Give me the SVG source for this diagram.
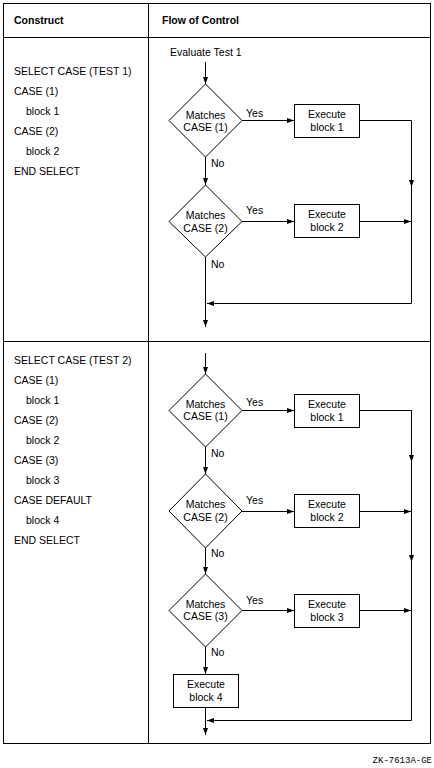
<svg xmlns="http://www.w3.org/2000/svg" width="434" height="768" viewBox="0 0 434 768">
<style>
  .t{font-family:"Liberation Sans",Arial,sans-serif;font-size:10.5px;fill:#000}
  .h{font-family:"Liberation Sans",Arial,sans-serif;font-size:10.5px;font-weight:bold;fill:#000}
  .c{text-anchor:middle}
  .s{fill:#fff;stroke:#000;stroke-width:1}
  .l{fill:none;stroke:#000;stroke-width:1}
  .a{fill:none;stroke:#000;stroke-width:1;marker-end:url(#ah)}
  .f{font-family:"Liberation Mono","Courier New",monospace;font-size:9px;fill:#000;text-anchor:end}
</style>
<defs>
  <marker id="ah" markerUnits="userSpaceOnUse" markerWidth="8" markerHeight="7" refX="7" refY="3" orient="auto">
    <path d="M0,0.5 L7,3 L0,5.5 z" fill="#000"/>
  </marker>
</defs>
<rect width="434" height="768" fill="#fff"/>
<g id="table">
  <rect x="3.5" y="3.5" width="427" height="740" class="l" stroke-width="1.2"/>
  <line x1="148.5" y1="3.5" x2="148.5" y2="743.5" class="l"/>
  <line x1="3.5" y1="37.5" x2="430.5" y2="37.5" class="l"/>
  <line x1="3.5" y1="341.5" x2="430.5" y2="341.5" class="l"/>
  <text x="14" y="24" class="h">Construct</text>
  <text x="162" y="24" class="h">Flow of Control</text>
</g>
<g id="code1">
  <text x="14" y="75" class="t">SELECT CASE (TEST 1)</text>
  <text x="14" y="95" class="t">CASE (1)</text>
  <text x="26" y="115" class="t">block 1</text>
  <text x="14" y="135" class="t">CASE (2)</text>
  <text x="26" y="155" class="t">block 2</text>
  <text x="14" y="175" class="t">END SELECT</text>
</g>
<g id="code2">
  <text x="14" y="364" class="t">SELECT CASE (TEST 2)</text>
  <text x="14" y="384" class="t">CASE (1)</text>
  <text x="26" y="404" class="t">block 1</text>
  <text x="14" y="424" class="t">CASE (2)</text>
  <text x="26" y="444" class="t">block 2</text>
  <text x="14" y="464" class="t">CASE (3)</text>
  <text x="26" y="484" class="t">block 3</text>
  <text x="14" y="504" class="t">CASE DEFAULT</text>
  <text x="26" y="524" class="t">block 4</text>
  <text x="14" y="544" class="t">END SELECT</text>
</g>
<g id="connectors">
  <path d="M205.5,62 V84" class="a"/>
  <path d="M242,120.5 H294" class="a"/>
  <path d="M359,120.5 H411.5 V187" class="a"/>
  <path d="M411.5,187 V303.5 H207" class="a"/>
  <path d="M205.5,157 V185" class="a"/>
  <path d="M242,221.5 H294" class="a"/>
  <path d="M359,221.5 H411" class="a"/>
  <path d="M205.5,257 V327" class="a"/>
  <path d="M205.5,353 V374" class="a"/>
  <path d="M242,410.5 H294" class="a"/>
  <path d="M359,410.5 H411.5 V462" class="a"/>
  <path d="M411.5,462 V562" class="a"/>
  <path d="M411.5,562 V720.5 H207" class="a"/>
  <path d="M205.5,447 V474" class="a"/>
  <path d="M242,511.5 H294" class="a"/>
  <path d="M359,511.5 H411" class="a"/>
  <path d="M205.5,548 V574" class="a"/>
  <path d="M242,610.5 H294" class="a"/>
  <path d="M359,610.5 H411" class="a"/>
  <path d="M205.5,647 V674" class="a"/>
  <path d="M205.5,707 V735" class="a"/>
  <text x="246" y="117" class="t">Yes</text>
  <text x="211" y="167" class="t">No</text>
  <text x="246" y="214" class="t">Yes</text>
  <text x="211" y="268" class="t">No</text>
  <text x="246" y="406" class="t">Yes</text>
  <text x="211" y="457" class="t">No</text>
  <text x="246" y="504" class="t">Yes</text>
  <text x="211" y="557" class="t">No</text>
  <text x="246" y="604" class="t">Yes</text>
  <text x="211" y="656" class="t">No</text>
</g>
<g id="start1"><text x="170" y="56" class="t">Evaluate Test 1</text></g>
<g id="d1">
  <polygon points="205.5,84 242,120.5 205.5,157 169,120.5" class="s"/>
  <text x="205.5" y="119" class="t c">Matches</text>
  <text x="205.5" y="131" class="t c">CASE (1)</text>
</g>
<g id="b1">
  <rect x="294.5" y="104.5" width="65" height="33" class="s"/>
  <text x="327" y="118" class="t c">Execute</text>
  <text x="327" y="131" class="t c">block 1</text>
</g>
<g id="d2">
  <polygon points="205.5,185 242,221.5 205.5,257 169,221.5" class="s"/>
  <text x="205.5" y="219" class="t c">Matches</text>
  <text x="205.5" y="232" class="t c">CASE (2)</text>
</g>
<g id="b2">
  <rect x="294.5" y="204.5" width="65" height="33" class="s"/>
  <text x="327" y="218" class="t c">Execute</text>
  <text x="327" y="231" class="t c">block 2</text>
</g>
<g id="d3">
  <polygon points="205.5,374 242,410.5 205.5,447 169,410.5" class="s"/>
  <text x="205.5" y="408" class="t c">Matches</text>
  <text x="205.5" y="420" class="t c">CASE (1)</text>
</g>
<g id="b3">
  <rect x="294.5" y="394.5" width="65" height="33" class="s"/>
  <text x="327" y="408" class="t c">Execute</text>
  <text x="327" y="421" class="t c">block 1</text>
</g>
<g id="d4">
  <polygon points="205.5,474 242,511 205.5,548 169,511" class="s"/>
  <text x="205.5" y="508" class="t c">Matches</text>
  <text x="205.5" y="521" class="t c">CASE (2)</text>
</g>
<g id="b4">
  <rect x="294.5" y="494.5" width="65" height="33" class="s"/>
  <text x="327" y="508" class="t c">Execute</text>
  <text x="327" y="521" class="t c">block 2</text>
</g>
<g id="d5">
  <polygon points="205.5,574 242,610.5 205.5,647 169,610.5" class="s"/>
  <text x="205.5" y="608" class="t c">Matches</text>
  <text x="205.5" y="620" class="t c">CASE (3)</text>
</g>
<g id="b5">
  <rect x="294.5" y="594.5" width="65" height="33" class="s"/>
  <text x="327" y="608" class="t c">Execute</text>
  <text x="327" y="621" class="t c">block 3</text>
</g>
<g id="b6">
  <rect x="173.5" y="674.5" width="65" height="33" class="s"/>
  <text x="206" y="688" class="t c">Execute</text>
  <text x="206" y="701" class="t c">block 4</text>
</g>
<text x="432" y="763" class="f">ZK-7613A-GE</text>
</svg>
